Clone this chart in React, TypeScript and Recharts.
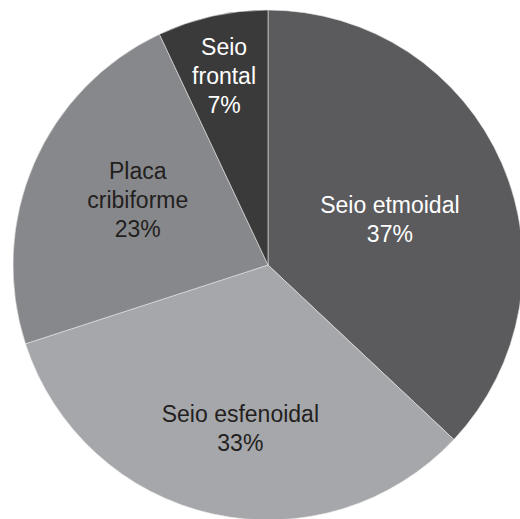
import React from 'react';
import { PieChart, Pie, Cell } from 'recharts';

// regiões e percentuais
const regions = ['Seio etmoidal', 'Seio esfenoidal', 'Placa cribiforme', 'Seio frontal'];
const percents = [37, 33, 23, 7];
const labelLines = [['Seio etmoidal'], ['Seio esfenoidal'], ['Placa', 'cribiforme'], ['Seio', 'frontal']];
const colors = ['#5b5b5d', '#a6a7aa', '#87888b', '#3a3a3b'];
const textColors = ['#ffffff', '#231f20', '#231f20', '#ffffff'];

// label placement tweaks (fraction of radius, angle nudge in degrees)
const labelPos = [
  { r: 0.51, da: -3 },
  { r: 0.65, da: 3 },
  { r: 0.57, da: -3 },
  { r: 0.76, da: 0.5 },
];

const data = regions.map((name, i) => ({ name, value: percents[i] }));

const RADIAN = Math.PI / 180;
const FONT = 23;
const LINE = 29;

const renderLabel = (props: any) => {
  const { cx, cy, midAngle, outerRadius, index, value } = props;
  const pos = labelPos[index];
  const a = (midAngle + pos.da) * RADIAN;
  const x = cx + outerRadius * pos.r * Math.cos(a);
  const y = cy - outerRadius * pos.r * Math.sin(a);
  const lines = [...labelLines[index], `${value}%`];
  const top = y - ((lines.length - 1) * LINE) / 2;
  return (
    <text
      x={x}
      y={top}
      fill={textColors[index]}
      textAnchor="middle"
      dominantBaseline="central"
      fontSize={FONT}
      fontFamily="'Liberation Sans', Arial, sans-serif"
    >
      {lines.map((l, i) => (
        <tspan key={i} x={x} dy={i === 0 ? 0 : LINE}>
          {l}
        </tspan>
      ))}
    </text>
  );
};

export default function App() {
  return (
    <div style={{ position: 'absolute', left: 0, top: 0, width: 520, height: 519, background: '#fff', overflow: 'hidden' }}>
      <PieChart width={520} height={519} margin={{ top: 0, right: 0, bottom: 0, left: 0 }}>
        <Pie
          data={data}
          dataKey="value"
          nameKey="name"
          cx={268}
          cy={265}
          outerRadius={255}
          startAngle={90}
          endAngle={-270}
          stroke="#e8e8e8"
          strokeWidth={0.6}
          label={renderLabel}
          labelLine={false}
          isAnimationActive={false}
        >
          {data.map((d, i) => (
            <Cell key={d.name} fill={colors[i]} />
          ))}
        </Pie>
      </PieChart>
    </div>
  );
}
